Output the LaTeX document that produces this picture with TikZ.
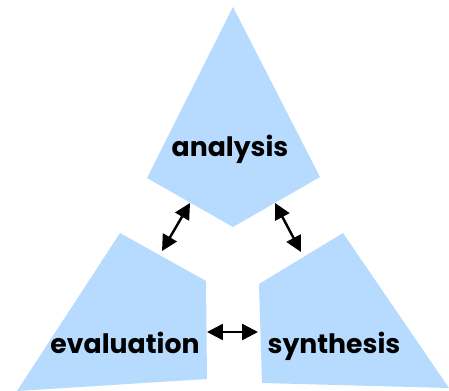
\documentclass[tikz,border=0pt]{standalone}
\usepackage{fontspec}
\setsansfont{Poppins}
\usetikzlibrary{arrows.meta}
\definecolor{paleblue}{RGB}{183,219,255}

\tikzset{
  piece/.style={fill=paleblue},
  word/.style={font=\sffamily\bfseries\fontsize{15.2}{18}\selectfont,anchor=base,inner sep=0pt},
  link/.style={line width=1.4pt,{Triangle[length=9pt,width=9pt]}-{Triangle[length=9pt,width=9pt]}}
}

\begin{document}
\begin{tikzpicture}[x=0.02cm,y=-0.02cm]
      \useasboundingbox (0,0) rectangle (449,391);
      % the three pieces
      \fill[piece] (233,7) -- (320,177) -- (233,227) -- (147,178) -- cycle;
      \fill[piece] (120,233) -- (206,281) -- (207,379) -- (17,391) -- cycle;
      \fill[piece] (343,233) -- (259,284) -- (262,383) -- (449,388) -- cycle;
      \node[word] (analysis) at (230,157) {analysis};
      \node[word] (evaluation) at (125,353) {evaluation};
      \node[word] (synthesis) at (334,353) {synthesis};
      % arrow ends
      \coordinate (an-l) at (190,203);
      \coordinate (ev-t) at (162,251);
      \coordinate (an-r) at (275,203);
      \coordinate (sy-t) at (301,252);
      \coordinate (ev-r) at (207,332);
      \coordinate (sy-l) at (258,332);
      \path[link] (an-l) edge (ev-t);
      \path[link] (an-r) edge (sy-t);
      \path[link] (ev-r) edge (sy-l);
    \end{tikzpicture}
\end{document}
